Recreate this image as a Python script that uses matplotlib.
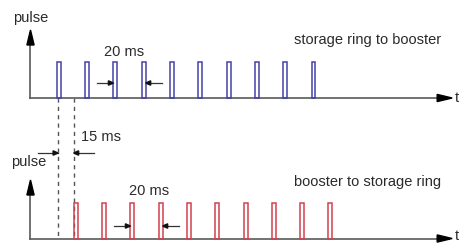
import matplotlib
matplotlib.use("Agg")
import matplotlib.pyplot as plt
from matplotlib.patches import Polygon

# pulse times in ms (as drawn in the sketch)
blue_times = [20, 40, 60, 80, 100, 120, 140, 160, 180, 200]
red_times = [32, 52, 72, 92, 112, 132, 152, 172, 192, 212]
dash_times = [19.5, 30.5]
pulse_h = 36
pulse_w = 2.8
t_end = 298

K = 20 / 28.3  # ms per pixel

plt.rcParams["font.family"] = ["Liberation Sans", "DejaVu Sans"]

fig = plt.figure(figsize=(4.62, 2.43), dpi=100)
ax = fig.add_axes([0, 0, 1, 1])
ax.set_xlim(-30.5 * K, (462 - 30.5) * K)
ax.set_ylim(0, 243)
ax.axis("off")

axis_col = "#5a5a5a"
txt_col = "#2a2a2a"


def head(x, y, direction, length=15, half=3.6, col="black"):
    # filled triangle, sizes in pixels
    if direction == "right":
        pts = [(x, y), (x - length * K, y + half), (x - length * K, y - half)]
    elif direction == "left":
        pts = [(x, y), (x + length * K, y + half), (x + length * K, y - half)]
    else:
        pts = [(x, y), (x - half * K, y - length), (x + half * K, y - length)]
    ax.add_patch(Polygon(pts, closed=True, color=col, zorder=5))


def axes_frame(base, top, t_y):
    ax.plot([0, t_end - 3 * K], [base, base], color=axis_col, lw=1.2, zorder=3)
    ax.plot([0, 0], [base, top - 3], color=axis_col, lw=1.2, zorder=3)
    head(t_end, base, "right")
    head(0, top, "up")
    ax.text(t_end + 4.5 * K, t_y, "t", ha="center", va="center",
            fontsize=10.5, color=txt_col)


def gap_arrows(x_left, x_right, y, ln=16):
    ax.plot([x_left - ln * K, x_left], [y, y], color="#333333", lw=0.9)
    ax.plot([x_right, x_right + ln * K], [y, y], color="#333333", lw=0.9)
    head(x_left, y, "right", length=5, half=2.2, col="#111111")
    head(x_right, y, "left", length=5, half=2.2, col="#111111")


top_base = 145
bot_base = 4.5

# top panel: storage ring to booster
axes_frame(top_base, 213, top_base)
ax.bar(blue_times, pulse_h, width=pulse_w, bottom=top_base, fill=False,
       edgecolor="#4242a6", linewidth=1.1, zorder=4)
ax.text(0, 225, "pulse", ha="center", va="center", fontsize=10.5, color=txt_col)
ax.text(66, 191, "20 ms", ha="center", va="center", fontsize=10.5, color=txt_col)
ax.text(238, 203, "storage ring to booster", ha="center", va="center",
        fontsize=10.5, color=txt_col)
gap_arrows(blue_times[2] - pulse_w / 2, blue_times[3] + pulse_w / 2, 160)

# bottom panel: booster to storage ring
axes_frame(bot_base, 63, bot_base + 3)
ax.bar(red_times, pulse_h, width=pulse_w, bottom=bot_base, fill=False,
       edgecolor="#d2404c", linewidth=1.1, zorder=4)
ax.text(-1, 81, "pulse", ha="center", va="center", fontsize=10.5, color=txt_col)
ax.text(84, 52, "20 ms", ha="center", va="center", fontsize=10.5, color=txt_col)
ax.text(238, 61, "booster to storage ring", ha="center", va="center",
        fontsize=10.5, color=txt_col)
gap_arrows(red_times[2] - pulse_w / 2, red_times[3] + pulse_w / 2, 17)

# 15 ms offset
for t in dash_times:
    ax.plot([t, t], [top_base, bot_base], color="#555555", lw=1.0,
            linestyle=(0, (3, 3)), zorder=2)
ax.text(49.5, 106, "15 ms", ha="center", va="center", fontsize=10.5, color=txt_col)
gap_arrows(dash_times[0], dash_times[1], 90, ln=20)

fig.savefig("out.png", dpi=100)
